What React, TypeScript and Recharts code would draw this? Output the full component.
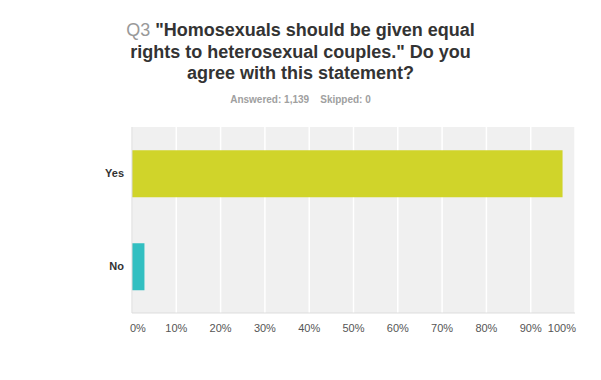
import { BarChart, Bar, XAxis, YAxis, CartesianGrid, Cell } from "recharts";

// survey answers
const answers = ["Yes", "No"];
const shares = [97.19, 2.81];
const colors = ["#d0d42a", "#32bfc1"];
const xTicks = [0, 10, 20, 30, 40, 50, 60, 70, 80, 90, 100];

const data = answers.map((answer, i) => ({ answer, share: shares[i] }));

const font = "'Liberation Sans', Arial, sans-serif";

// first and last labels are kept inside the plot edges
const PercentTick = (props: any) => {
  const { x, y, payload } = props;
  const v = payload.value;
  const anchor = v === 0 ? "start" : v === 100 ? "end" : "middle";
  const dx = v === 0 ? -2 : v === 100 ? 1 : 0;
  return (
    <text x={x + dx} y={y} dy="0.71em" textAnchor={anchor} fill="#555" fontSize={11} fontFamily={font}>
      {`${v}%`}
    </text>
  );
};

export default function App() {
  return (
    <div
      style={{
        position: "absolute",
        left: 0,
        top: 0,
        width: 601,
        height: 380,
        background: "#fff",
        fontFamily: font,
      }}
    >
      <div
        style={{
          position: "absolute",
          left: 0,
          top: 20,
          width: 601,
          textAlign: "center",
          fontSize: 18,
          lineHeight: "21.5px",
          fontWeight: "bold",
          color: "#333",
        }}
      >
        <span style={{ color: "#999", fontWeight: "normal" }}>Q3</span> "Homosexuals should be given equal
        <br />
        rights to heterosexual couples." Do you
        <br />
        agree with this statement?
      </div>
      <div
        style={{
          position: "absolute",
          left: 0,
          top: 94,
          width: 601,
          textAlign: "center",
          fontSize: 10,
          fontWeight: "bold",
          color: "#a0a0a0",
        }}
      >
        Answered: 1,139&nbsp;&nbsp;&nbsp;&nbsp;Skipped: 0
      </div>
      <div style={{ position: "absolute", left: 0, top: 0 }}>
        <BarChart
          width={601}
          height={380}
          data={data}
          layout="vertical"
          margin={{ top: 127, right: 26, left: 0, bottom: 37 }}
          barCategoryGap="25%"
        >
          <CartesianGrid horizontal={false} stroke="#ffffff" strokeWidth={1.5} fill="#f0f0f0" />
          <XAxis
            type="number"
            domain={[0, 100]}
            ticks={xTicks}
            tick={<PercentTick />}
            tickLine={false}
            axisLine={{ stroke: "#dddddd" }}
            tickMargin={5}
            height={30}
            interval={0}
          />
          <YAxis
            type="category"
            dataKey="answer"
            width={132}
            tickLine={false}
            axisLine={{ stroke: "#d8d8d8" }}
            tick={{ fill: "#333", fontSize: 11, fontWeight: "bold", fontFamily: font }}
          />
          <Bar dataKey="share" isAnimationActive={false}>
            {data.map((d, i) => (
              <Cell key={d.answer} fill={colors[i]} />
            ))}
          </Bar>
        </BarChart>
      </div>
    </div>
  );
}
